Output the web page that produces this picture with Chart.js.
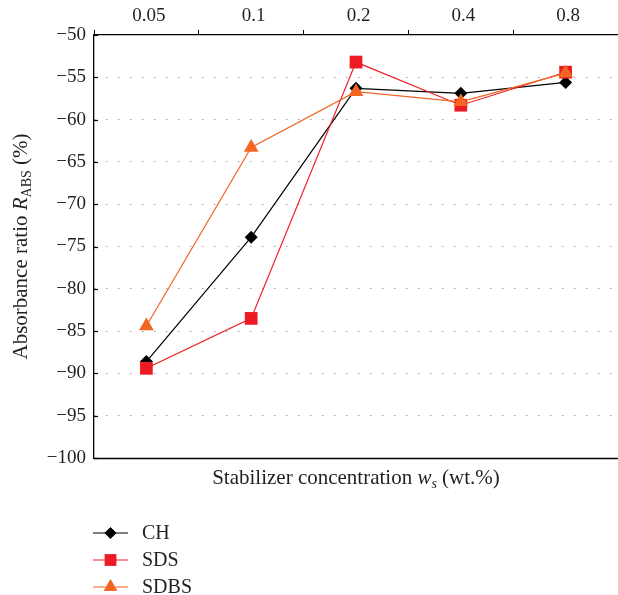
<!DOCTYPE html>
<html><head><meta charset="utf-8">
<script src="https://cdn.jsdelivr.net/npm/chart.js@4/dist/chart.umd.min.js"></script>
<style>html,body{margin:0;padding:0;background:#fff;}#wrap{width:618px;height:595px;position:relative;}</style>
</head><body><div id="wrap"><canvas id="c" width="618" height="595"></canvas></div>
<script>
const categories = ['0.05', '0.1', '0.2', '0.4', '0.8'];
const seriesNames = ['CH', 'SDS', 'SDBS'];
const chValues   = [-88.6, -73.9, -56.3, -56.9, -55.6];
const sdsValues  = [-89.4, -83.5, -53.2, -58.3, -54.4];
const sdbsValues = [-84.4, -63.3, -56.7, -57.9, -54.5];
const yMin = -100, yMax = -50, yStep = 5;

const FONT = "'Liberation Serif', 'Times New Roman', serif";
const colors = ['#000000', '#ED1C24', '#F26522'];
const styles = ['rectRot', 'rect', 'triangle'];
const radii = [6.5, 9, 8.5];
const allValues = [chValues, sdsValues, sdbsValues];

const datasets = seriesNames.map((n, i) => ({
  label: n,
  data: allValues[i],
  borderColor: colors[i],
  backgroundColor: colors[i],
  pointBackgroundColor: colors[i],
  pointBorderColor: colors[i],
  pointStyle: styles[i],
  pointRadius: radii[i],
  pointBorderWidth: 0,
  borderWidth: 1.2,
  tension: 0,
  clip: false,
  order: 3 - i
}));

function drawRich(ctx, parts, x, y, align) {
  let total = 0;
  parts.forEach(p => { ctx.font = p.f; p.w = ctx.measureText(p.t).width; total += p.w; });
  let cx = align === 'center' ? x - total / 2 : x;
  parts.forEach(p => {
    ctx.font = p.f;
    ctx.fillText(p.t, cx, y + (p.dy || 0));
    cx += p.w;
  });
}

const decor = {
  id: 'decor',
  afterDraw(chart) {
    const ctx = chart.ctx, a = chart.chartArea;
    ctx.save();
    ctx.strokeStyle = '#000'; ctx.lineWidth = 1.3;
    ctx.beginPath(); ctx.moveTo(a.left, a.bottom + 0.5); ctx.lineTo(a.right, a.bottom + 0.5); ctx.stroke();
    // inward y ticks
    const ys = chart.scales.y;
    ctx.lineWidth = 1.2;
    ys.ticks.forEach(t => {
      const py = Math.round(ys.getPixelForValue(t.value)) + 0.5;
      ctx.beginPath(); ctx.moveTo(a.left, py); ctx.lineTo(a.left + 4, py); ctx.stroke();
    });
    ctx.fillStyle = '#231F20';
    ctx.textBaseline = 'alphabetic'; ctx.textAlign = 'left';
    const R = '21px ' + FONT, I = 'italic 21px ' + FONT, S = '14px ' + FONT, SI = 'italic 14px ' + FONT;
    drawRich(ctx, [
      {t: 'Stabilizer concentration ', f: R},
      {t: 'w', f: I},
      {t: 's', f: SI, dy: 4},
      {t: ' (wt.%)', f: R}
    ], (a.left + a.right) / 2, 484, 'center');
    ctx.save();
    ctx.translate(27, (a.top + a.bottom) / 2);
    ctx.rotate(-Math.PI / 2);
    drawRich(ctx, [
      {t: 'Absorbance ratio ', f: R},
      {t: 'R', f: I},
      {t: 'ABS', f: S, dy: 4},
      {t: ' (%)', f: R}
    ], 0, 0, 'center');
    ctx.restore();
    // legend
    const rows = [533, 560, 587];
    chart.data.datasets.forEach((ds, i) => {
      const y = rows[i];
      ctx.strokeStyle = ds.borderColor; ctx.lineWidth = 1.2;
      ctx.beginPath(); ctx.moveTo(93, y); ctx.lineTo(128, y); ctx.stroke();
      ctx.fillStyle = ds.pointBackgroundColor;
      Chart.helpers.drawPoint(ctx, {pointStyle: ds.pointStyle, radius: ds.pointRadius * 0.9, rotation: 0, borderWidth: 0}, 110.5, y);
      ctx.fill();
      ctx.fillStyle = '#231F20';
      ctx.font = '20px ' + FONT;
      ctx.textBaseline = 'middle';
      ctx.fillText(ds.label, 142, y + 1);
    });
    ctx.restore();
  }
};

new Chart(document.getElementById('c'), {
  type: 'line',
  data: { labels: categories, datasets },
  options: {
    responsive: false,
    devicePixelRatio: 1,
    animation: false,
    layout: { autoPadding: false, padding: { left: 0, right: 0, top: 0, bottom: 137 } },
    plugins: { legend: { display: false }, tooltip: { enabled: false } },
    scales: {
      x: {
        position: 'top',
        offset: true,
        afterFit: s => { s.height = 35; s.paddingLeft = 0; s.paddingRight = 0; },
        grid: { display: true, offset: true, drawOnChartArea: false, drawTicks: true, tickLength: 5, color: '#000', tickColor: '#000' },
        border: { display: true, color: '#000', width: 1.3 },
        ticks: { color: '#231F20', font: { family: FONT, size: 19 }, padding: 3, labelOffset: 2.5 }
      },
      y: {
        min: yMin, max: yMax,
        afterFit: s => { s.width = 94; s.paddingTop = 0; s.paddingBottom = 0; },
        ticks: {
          stepSize: yStep,
          color: '#231F20',
          font: { family: FONT, size: 19 },
          padding: 8,
          callback: v => String(v).replace('-', '\u2212')
        },
        grid: {
          drawTicks: false,
          lineWidth: 1,
          color: c => (c.tick && (c.tick.value === yMin || c.tick.value === yMax)) ? 'rgba(0,0,0,0)' : '#6d6d6d'
        },
        border: { display: true, color: '#000', width: 1.3, dash: [1, 11] }
      }
    }
  },
  plugins: [decor]
});
</script></body></html>
